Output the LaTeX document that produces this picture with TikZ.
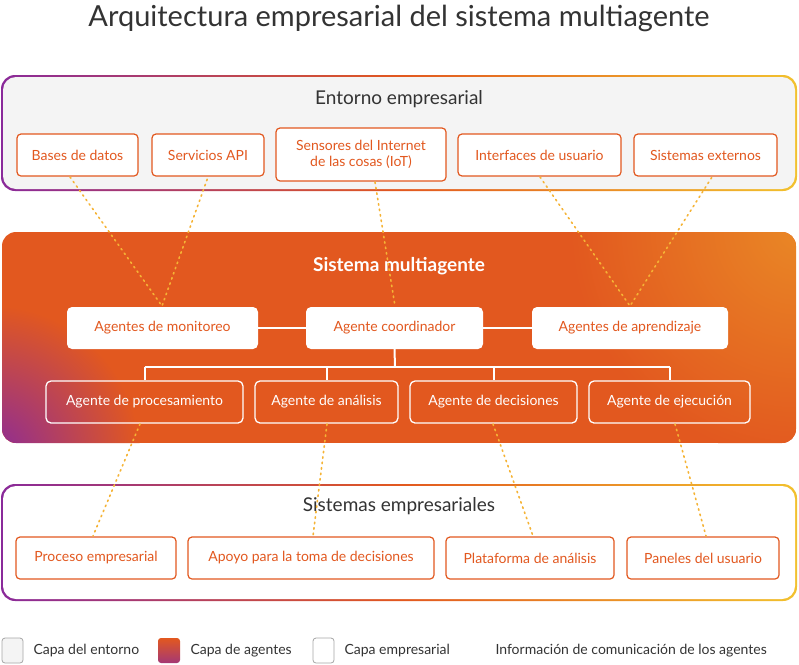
\documentclass[tikz,border=0pt]{standalone}
\usepackage{fontspec}
\setmainfont{Lato}
\usepackage{tikz}
\definecolor{agentOrange}{HTML}{E2581F}
\definecolor{layerPurple}{HTML}{8A2A9A}
\definecolor{layerYellow}{HTML}{F2C12E}
\definecolor{envGrey}{HTML}{F4F4F4}
\definecolor{linkYellow}{HTML}{F5B335}
\definecolor{titleGrey}{HTML}{333333}

\begin{document}
\begin{tikzpicture}[
  x=1pt, y=-1pt,
  font=\fontsize{14}{16}\selectfont,
  envbox/.style={
    draw=agentOrange,
    line width=1.2pt,
    rounded corners=4pt,
    fill=white,
    text=agentOrange,
    align=center,
  },
  agentbox/.style={
    fill=white,
    rounded corners=5pt,
    text=agentOrange,
  },
  workerbox/.style={
    draw=white,
    line width=1.3pt,
    rounded corners=5pt,
    text=white,
  },
  layertitle/.style={
    font=\fontsize{19}{21}\selectfont,
    text=titleGrey,
  },
  legendbox/.style={
    draw=gray!70,
    line width=0.8pt,
    rounded corners=3pt,
  },
  link/.style={
    draw=linkYellow,
    line width=1.6pt,
    dash pattern=on 1.5pt off 4pt,
    line cap=round,
  },
  tree/.style={
    draw=white,
    line width=2pt,
  },
]
\useasboundingbox (0,0) rectangle (799,664);
\node[font=\fontsize{29}{32}\selectfont, text=titleGrey] (title) at (399,18) {Arquitectura empresarial del sistema multiagente};

% environment layer
\shade[left color=layerPurple, right color=layerYellow, middle color=agentOrange, rounded corners=14pt]
  (1,75) rectangle (797,191);
\fill[envGrey, rounded corners=13pt] (3,77) rectangle (795,189);
\node[layertitle] (envtitle) at (399,99) {Entorno empresarial};
\node[envbox, minimum width=121, minimum height=42] (db) at (77.5,155) {Bases de datos};
\node[envbox, minimum width=112, minimum height=42] (api) at (208,155) {Servicios API};
\node[envbox, minimum width=170, minimum height=53] (iot) at (361,154.5) {Sensores del Internet\\de las cosas (IoT)};
\node[envbox, minimum width=163, minimum height=42] (ui) at (539.5,155) {Interfaces de usuario};
\node[envbox, minimum width=143, minimum height=42] (ext) at (705.5,155) {Sistemas externos};

% agent layer
\begin{scope}
  \clip[rounded corners=14pt] (2,232) rectangle (796,443);
  \fill[agentOrange] (2,232) rectangle (796,443);
  \shade[inner color=agentOrange!55!layerYellow, outer color=agentOrange] (800,228) circle (230);
  \shade[inner color=layerPurple, outer color=agentOrange] (-10,455) circle (150);
\end{scope}
\node[font=\fontsize{19}{21}\bfseries\selectfont, text=white] (agtitle) at (399,266) {Sistema multiagente};
\node[agentbox, minimum width=191, minimum height=42] (mon) at (162.5,328) {Agentes de monitoreo};
\node[agentbox, minimum width=177, minimum height=42] (coord) at (394.5,328) {Agente coordinador};
\node[agentbox, minimum width=196, minimum height=42] (learn) at (630,328) {Agentes de aprendizaje};
\node[workerbox, minimum width=197, minimum height=42] (proc) at (144.5,402) {Agente de procesamiento};
\node[workerbox, minimum width=143, minimum height=42] (anal) at (326.5,402) {Agente de análisis};
\node[workerbox, minimum width=167, minimum height=42] (dec) at (493.5,402) {Agente de decisiones};
\node[workerbox, minimum width=161, minimum height=42] (exe) at (669.5,402) {Agente de ejecución};
\coordinate (bus) at (395,367);
\draw[tree] (mon) -- (coord) -- (learn);
\draw[tree] (coord.south) -- (bus);
\draw[tree] (proc.north |- bus) -- (exe.north |- bus);
\foreach \w in {proc,anal,dec,exe}
  \draw[tree] (\w.north |- bus) -- (\w.north);

% business layer
\shade[left color=layerPurple, right color=layerYellow, middle color=agentOrange, rounded corners=14pt]
  (1,484) rectangle (797,601);
\fill[white, rounded corners=13pt] (3,486) rectangle (795,599);
\node[layertitle] (biztitle) at (399,506) {Sistemas empresariales};
\node[envbox, minimum width=160, minimum height=42] (bp) at (96,558) {Proceso empresarial};
\node[envbox, minimum width=246, minimum height=42] (dss) at (311,558) {Apoyo para la toma de decisiones};
\node[envbox, minimum width=168, minimum height=42] (plat) at (530,558) {Plataforma de análisis};
\node[envbox, minimum width=152, minimum height=42] (dash) at (703,558) {Paneles del usuario};

% communication links
\draw[link] (70,177) -- (162,306) -- (208,177);
\draw[link] (375,182) -- (395,306);
\draw[link] (540,177) -- (630,306) -- (712,177);
\draw[link] (140,424) -- (93,536);
\draw[link] (327,424) -- (313,536);
\draw[link] (493,424) -- (533,536);
\draw[link] (675,424) -- (706,536);

% legend
\draw[legendbox, fill=envGrey] (2,638) rectangle (23,663);
\node[anchor=west, text=titleGrey] (lgenv) at (30,651) {Capa del entorno};
\shade[top color=agentOrange, bottom color=layerPurple!70!agentOrange, rounded corners=3pt] (158,638) rectangle (180,663);
\node[anchor=west, text=titleGrey] (lgag) at (187,651) {Capa de agentes};
\draw[legendbox, fill=white] (313,638) rectangle (334,663);
\node[anchor=west, text=titleGrey] (lgbiz) at (341,651) {Capa empresarial};
\node[anchor=west, text=titleGrey] (lgcom) at (492,651) {Información de comunicación de los agentes};
\end{tikzpicture}
\end{document}
